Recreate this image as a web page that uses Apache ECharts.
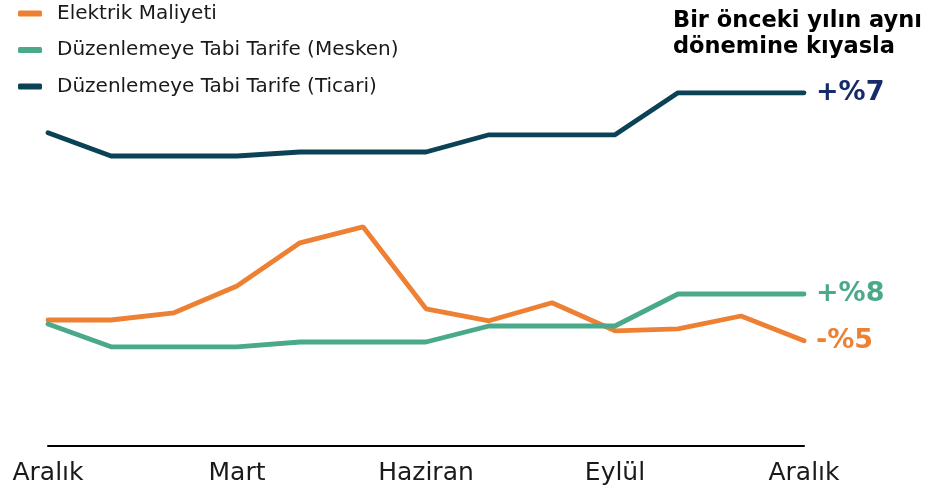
<!DOCTYPE html>
<html>
<head>
<meta charset="utf-8">
<script src="https://cdn.jsdelivr.net/npm/echarts@6/dist/echarts.min.js"></script>
<style>
  html, body { margin: 0; padding: 0; background: #fff; }
  #lineChart { width: 937px; height: 491px; }
</style>
</head>
<body>
<div id="lineChart"></div>
<script>
// months, Aralık -> Aralık
const months = ['Aralık', 'Ocak', 'Şubat', 'Mart', 'Nisan', 'Mayıs', 'Haziran',
  'Temmuz', 'Ağustos', 'Eylül', 'Ekim', 'Kasım', 'Aralık'];

// index values (no axis scale shown)
const elektrik = [31.5, 31.5, 33.3, 40, 50.8, 54.8, 34.3, 31.3, 35.8, 28.8, 29.3, 32.5, 26.3];
const mesken = [30.5, 24.8, 24.8, 24.8, 26, 26, 26, 30, 30, 30, 38, 38, 38];
const ticari = [78.3, 72.5, 72.5, 72.5, 73.5, 73.5, 73.5, 77.8, 77.8, 77.8, 88.3, 88.3, 88.3];

const endLabels = ['-%5', '+%8', '+%7'];
const seriesNames = ['Elektrik Maliyeti', 'Düzenlemeye Tabi Tarife (Mesken)', 'Düzenlemeye Tabi Tarife (Ticari)'];

const FONT = '"DejaVu Sans", Verdana, sans-serif';

const chart = echarts.init(document.getElementById('lineChart'));

function makeLine(name, data, color, label, labelColor) {
  return {
    name: name,
    type: 'line',
    data: data,
    symbol: 'none',
    lineStyle: { width: 4.8, color: color, cap: 'round' },
    itemStyle: { color: color },
    endLabel: {
      show: true,
      distance: 12,
      formatter: label,
      color: labelColor,
      fontFamily: FONT,
      fontWeight: 'bold',
      fontSize: 27
    }
  };
}

const option = {
  animation: false,
  title: {
    text: 'Bir önceki yılın aynı\ndönemine kıyasla',
    left: 668,
    top: 3,
    textStyle: {
      fontFamily: FONT,
      fontWeight: 'bold',
      fontSize: 22.5,
      color: '#000',
      lineHeight: 26
    }
  },
  legend: {
    orient: 'vertical',
    left: 18,
    top: 2,
    padding: 0,
    itemGap: 13.5,
    itemWidth: 24,
    itemHeight: 6,
    icon: 'roundRect',
    data: seriesNames,
    textStyle: {
      fontFamily: FONT,
      fontSize: 20,
      lineHeight: 23,
      color: '#1a1a1a',
      padding: [0, 0, 0, 10]
    }
  },
  grid: {
    left: 48,
    right: 133,
    top: 46,
    bottom: 45
  },
  xAxis: {
    type: 'category',
    boundaryGap: false,
    data: months,
    axisLine: { lineStyle: { color: '#000', width: 2 } },
    axisTick: { show: false },
    axisLabel: {
      interval: 2,
      margin: 15,
      fontFamily: FONT,
      fontSize: 25,
      color: '#1a1a1a'
    }
  },
  yAxis: {
    type: 'value',
    min: 0,
    max: 100,
    show: false
  },
  series: [
    makeLine(seriesNames[0], elektrik, '#ee8033', endLabels[0], '#ee8033'),
    makeLine(seriesNames[1], mesken, '#4aa98a', endLabels[1], '#4aa98a'),
    makeLine(seriesNames[2], ticari, '#0b4356', endLabels[2], '#172b6b')
  ]
};

chart.setOption(option);
</script>
</body>
</html>
